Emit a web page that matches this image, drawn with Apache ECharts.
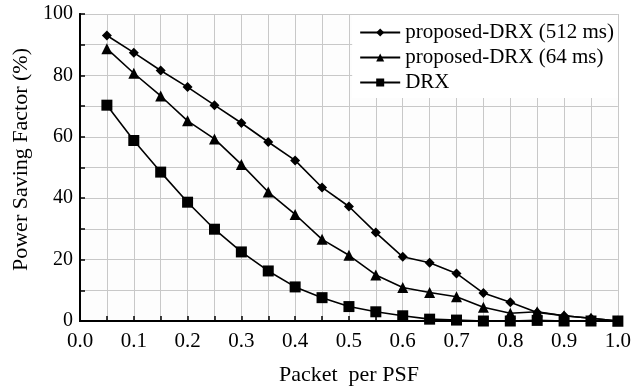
<!DOCTYPE html>
<html>
<head>
<meta charset="utf-8">
<script src="https://cdn.jsdelivr.net/npm/echarts@6/dist/echarts.min.js"></script>
<style>
html,body{margin:0;padding:0;background:#fff;}
#charts{width:634px;height:391px;}
</style>
</head>
<body>
<div id="charts"></div>
<script>
// 横轴 Packet per PSF
var xVals = [0.05,0.1,0.15,0.2,0.25,0.3,0.35,0.4,0.45,0.5,0.55,0.6,0.65,0.7,0.75,0.8,0.85,0.9,0.95,1.0];
var drx512 = [93,87.4,81.6,76.2,70.3,64.5,58.3,52.3,43.5,37.3,28.8,20.9,19,15.5,9.1,6.1,2.8,1.7,0.9,0];
var drx64 = [88.7,80.7,73.3,65.2,59.3,51,42,34.7,26.6,21.4,15,10.9,9.3,7.9,4.5,2.5,3,1.7,0.9,0];
var drx = [70.3,58.8,48.5,38.7,29.9,22.5,16.3,11.1,7.6,4.7,3,1.7,0.6,0.3,0,0,0.2,0,0,0];
var names = ['proposed-DRX (512 ms)','proposed-DRX (64 ms)','DRX'];

function pairs(ys){
	var out = [];
	for(var i=0;i<xVals.length;i++){
		out.push([xVals[i], ys[i]]);
	}
	return out;
}

var font = 'Liberation Serif';
var charts = echarts.init(document.getElementById('charts'));
var option = {
	animation:false,
	backgroundColor:'#fff',
	textStyle:{fontFamily:font, color:'#000'},
	grid:{
		left:80, right:16, top:14, bottom:68,
		show:true, backgroundColor:'#fdfdfd', borderWidth:0
	},
	legend:{
		orient:'vertical',
		right:16, top:15,
		backgroundColor:'#fff',
		padding:[7,4,5,7],
		itemGap:4,
		itemWidth:40,
		itemHeight:10,
		textStyle:{fontFamily:font, fontSize:21, color:'#000'},
		data:names
	},
	xAxis:[{
		type:'value',
		min:0, max:1, interval:0.05,
		name:'Packet  per PSF',
		nameLocation:'middle',
		nameGap:43,
		nameTextStyle:{fontFamily:font, fontSize:22, color:'#000'},
		axisLine:{lineStyle:{color:'#000', width:2}},
		axisTick:{inside:true, length:5, lineStyle:{color:'#000', width:1.5}},
		axisLabel:{
			fontFamily:font, fontSize:21, color:'#000', margin:10,
			formatter:function(v){
				return Math.round(v*100)%10===0 ? v.toFixed(1) : '';
			}
		},
		splitLine:{show:true, lineStyle:{color:'#c8c8c8', width:1}}
	},{
		type:'value', position:'top', min:0, max:1,
		axisLine:{show:true, lineStyle:{color:'#000', width:2}},
		axisTick:{show:false}, axisLabel:{show:false}, splitLine:{show:false}
	}],
	yAxis:[{
		type:'value',
		min:0, max:100, interval:10,
		name:'Power Saving Factor (%)',
		nameLocation:'middle',
		nameGap:48,
		nameTextStyle:{fontFamily:font, fontSize:22, color:'#000', padding:[0,0,0,16]},
		axisLine:{show:true, lineStyle:{color:'#000', width:2}},
		axisTick:{show:true, inside:true, length:5, lineStyle:{color:'#000', width:1.5}},
		axisLabel:{
			fontFamily:font, fontSize:20, color:'#000', margin:7,
			formatter:function(v){
				return v%20===0 ? String(v) : '';
			}
		},
		splitLine:{show:true, lineStyle:{color:'#c8c8c8', width:1}}
	},{
		type:'value', position:'right', min:0, max:100,
		axisLine:{show:true, lineStyle:{color:'#000', width:2}},
		axisTick:{show:false}, axisLabel:{show:false}, splitLine:{show:false}
	}],
	series:[{
		name:names[0],
		type:'line',
		symbol:'diamond',
		symbolSize:10,
		itemStyle:{color:'#000'},
		lineStyle:{color:'#000', width:1.6},
		data:pairs(drx512)
	},{
		name:names[1],
		type:'line',
		symbol:'triangle',
		symbolSize:11,
		itemStyle:{color:'#000'},
		lineStyle:{color:'#000', width:1.6},
		data:pairs(drx64)
	},{
		name:names[2],
		type:'line',
		symbol:'rect',
		symbolSize:11,
		itemStyle:{color:'#000'},
		lineStyle:{color:'#000', width:1.6},
		data:pairs(drx)
	}]
};
charts.setOption(option);
</script>
</body>
</html>
